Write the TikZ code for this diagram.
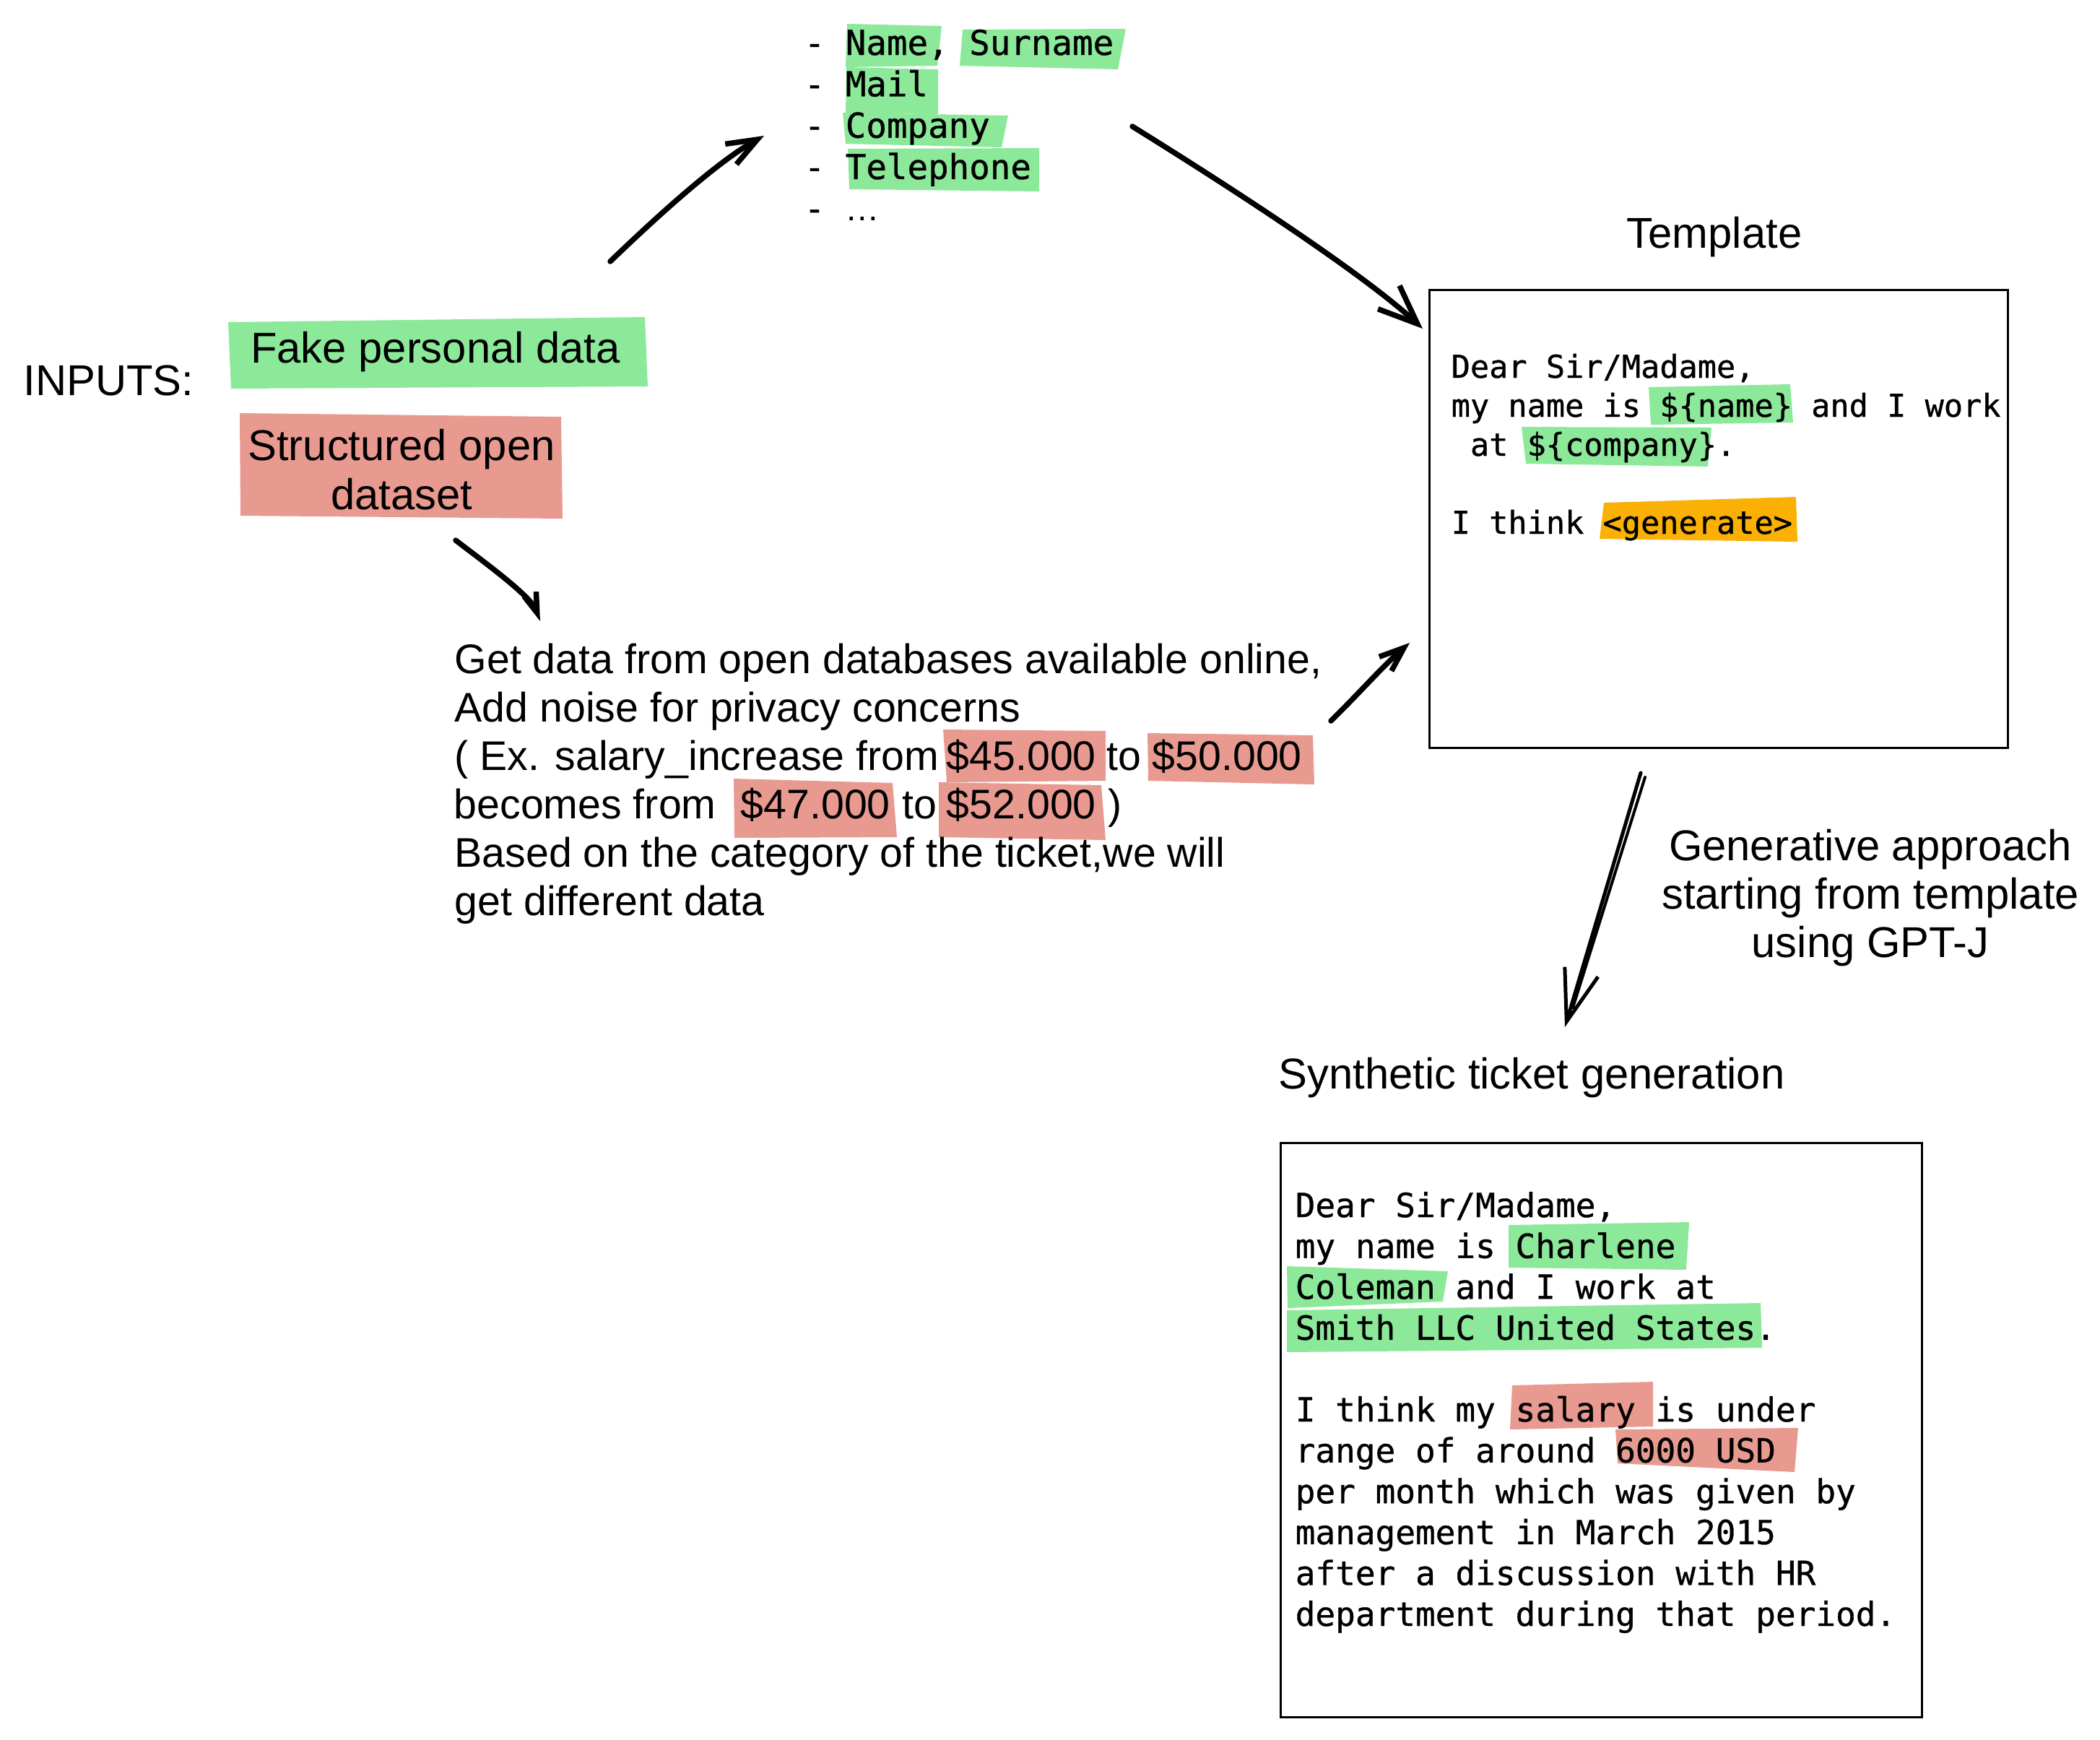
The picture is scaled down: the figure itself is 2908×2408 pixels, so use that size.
\documentclass[tikz,border=0pt]{standalone}
\usepackage{fontspec}
\setmainfont{Liberation Sans}
\setmonofont{DejaVu Sans Mono}[FakeBold=0.8]
\usetikzlibrary{arrows.meta}
\definecolor{hlgreen}{HTML}{8CE99A}
\definecolor{hlred}{HTML}{E99A90}
\definecolor{hlorange}{HTML}{FAB005}
\tikzset{
  lbl/.style={inner sep=0pt,font=\fontsize{17pt}{19.5pt}\selectfont},
  desc/.style={inner sep=0pt,anchor=base west,font=\fontsize{16.3pt}{19pt}\selectfont},
  lst/.style={inner sep=0pt,anchor=base west,font=\ttfamily\fontsize{13.5pt}{16pt}\selectfont},
  tpl/.style={inner sep=0pt,anchor=base west,font=\ttfamily\fontsize{12.4pt}{15pt}\selectfont},
  tkt/.style={inner sep=0pt,anchor=base west,font=\ttfamily\fontsize{13.1pt}{16pt}\selectfont},
  frame/.style={draw,line width=0.3mm,inner sep=0pt},
  sketch/.style={line width=0.75mm,line cap=round,line join=round},
  hlg/.style={fill=hlgreen},
  hlr/.style={fill=hlred},
  hlo/.style={fill=hlorange}
}
\begin{document}
\begin{tikzpicture}[x=0.1mm,y=-0.1mm]
\useasboundingbox (0,0) rectangle (2908,2408);
% highlights
\fill[hlg] (316,446) -- (893,439) -- (897,535) -- (320,538) -- cycle;
\fill[hlr] (332,572) -- (777,577) -- (779,718) -- (333,714) -- cycle;
\fill[hlg] (1173,33) -- (1304,36) -- (1298,91) -- (1171,93) -- cycle;
\fill[hlg] (1333,41) -- (1559,40) -- (1548,96) -- (1329,91) -- cycle;
\fill[hlg] (1172,93) -- (1299,96) -- (1299,158) -- (1171,157) -- cycle;
\fill[hlg] (1167,156) -- (1396,160) -- (1387,204) -- (1171,199) -- cycle;
\fill[hlg] (1174,206) -- (1439,205) -- (1439,265) -- (1176,262) -- cycle;
\fill[hlr] (1306,1010) -- (1531,1012) -- (1531,1081) -- (1311,1083) -- cycle;
\fill[hlr] (1589,1015) -- (1818,1018) -- (1820,1086) -- (1590,1081) -- cycle;
\fill[hlr] (1016,1078) -- (1236,1084) -- (1242,1159) -- (1017,1160) -- cycle;
\fill[hlr] (1300,1083) -- (1525,1087) -- (1531,1163) -- (1300,1159) -- cycle;
\fill[hlg] (2283,536) -- (2479,532) -- (2483,585) -- (2286,588) -- cycle;
\fill[hlg] (2107,591) -- (2370,592) -- (2365,646) -- (2113,642) -- cycle;
\fill[hlo] (2221,696) -- (2487,688) -- (2489,750) -- (2215,746) -- cycle;
\fill[hlg] (2089,1696) -- (2339,1692) -- (2335,1758) -- (2089,1755) -- cycle;
\fill[hlg] (1782,1753) -- (2005,1760) -- (1998,1802) -- (1783,1811) -- cycle;
\fill[hlg] (1782,1814) -- (2438,1804) -- (2440,1866) -- (1782,1872) -- cycle;
\fill[hlr] (2094,1918) -- (2289,1913) -- (2289,1975) -- (2091,1979) -- cycle;
\fill[hlr] (2237,1979) -- (2490,1977) -- (2485,2038) -- (2240,2026) -- cycle;

% inputs
\node[lbl,anchor=base west] (inputs) at (32,547) {INPUTS:};
\node[lbl,anchor=base] (fake) at (603,502) {Fake personal data};
\node[lbl,anchor=base] (struct1) at (556,637) {Structured open};
\node[lbl,anchor=base] (struct2) at (556,705) {dataset};

% field list
\foreach \t [count=\i] in {{- Name, Surname},{- Mail},{- Company},{- Telephone},{- {\rmfamily …}}}
  \node[lst] (lst\i) at (1113,{76+57.3*(\i-1)}) {\t};

% open data
\node[desc] (desc1) at (629,932) {Get data from open databases available online,};
\node[desc] (desc2) at (629,999) {Add noise for privacy concerns};
\node[desc] (desc3a) at (629,1066) {( Ex. salary\_increase from};
\node[desc] (desc3b) at (1310,1066) {\$45.000};
\node[desc] (desc3c) at (1532,1066) {to};
\node[desc] (desc3d) at (1595,1066) {\$50.000};
\node[desc] (desc4a) at (628,1133) {becomes from};
\node[desc] (desc4b) at (1025,1133) {\$47.000};
\node[desc] (desc4c) at (1249,1133) {to};
\node[desc] (desc4d) at (1310,1133) {\$52.000};
\node[desc] (desc4e) at (1534,1133) {)};
\node[desc] (desc5) at (629,1200) {Based on the category of the ticket,we will};
\node[desc] (desc6) at (629,1267) {get different data};

% template
\node[lbl,anchor=base] (tpltitle) at (2374,343) {Template};
\node[frame,minimum width=80.1mm,minimum height=63.4mm] (tplbox) at (2379.5,718) {};
\foreach \t [count=\i] in {{Dear Sir/Madame,},{my name is \$\{name\} and I work},{\ at \$\{company\}.},{},{I think <generate>}}
  \node[tpl] (tpl\i) at (2009,{523+54*(\i-1)}) {\t};

% generation
\foreach \t [count=\i] in {{Generative approach},{starting from template},{using GPT-J}}
  \node[lbl,anchor=base] (gen\i) at (2590,{1191+67*(\i-1)}) {\t};
\node[lbl,anchor=base west] (tkttitle) at (1770,1507) {Synthetic ticket generation};
\node[frame,minimum width=88.8mm,minimum height=79.5mm] (tktbox) at (2217,1979.5) {};
\foreach \t [count=\i] in {{Dear Sir/Madame,},{my name is Charlene},{Coleman and I work at},{Smith LLC United States.},{},
  {I think my salary is under},{range of around 6000 USD},{per month which was given by},{management in March 2015},
  {after a discussion with HR},{department during that period.}}
  \node[tkt] (tkt\i) at (1793,{1685+56.6*(\i-1)}) {\t};

% arrows
\coordinate (a0s) at (631,748);
\coordinate (a0e) at (748,860);
\coordinate (a1s) at (845,362);
\coordinate (a1e) at (1058,188);
\coordinate (a2s) at (1568,175);
\coordinate (a2e) at (1970,455);
\coordinate (a3s) at (1843,998);
\coordinate (a3e) at (1952,890);
\coordinate (a4s) at (2272,1070);
\coordinate (a4e) at (2167,1422);
\coordinate (a4t) at (2278,1076);
\coordinate (a4b) at (2178,1395);
\draw[sketch,-{Straight Barb[length=2.8mm,width=1.8mm]}] (a0s) .. controls (670,778) and (735,825) .. (a0e);
\draw[sketch,-{Straight Barb[length=4.2mm,width=3.2mm]}] (a1s) .. controls (925,285) and (1000,220) .. (a1e);
\draw[sketch,-{Straight Barb[length=5.4mm,width=4.4mm]}] (a2s) .. controls (1718,268) and (1890,381) .. (a2e);
\draw[sketch,-{Straight Barb[length=3.4mm,width=2.6mm]}] (a3s) .. controls (1880,962) and (1915,922) .. (a3e);
\draw[sketch,line width=0.5mm,-{Straight Barb[length=7.2mm,width=4.8mm]}] (a4s) -- (a4e);
\draw[sketch,line width=0.4mm] (a4t) -- (a4b);
\end{tikzpicture}
\end{document}
